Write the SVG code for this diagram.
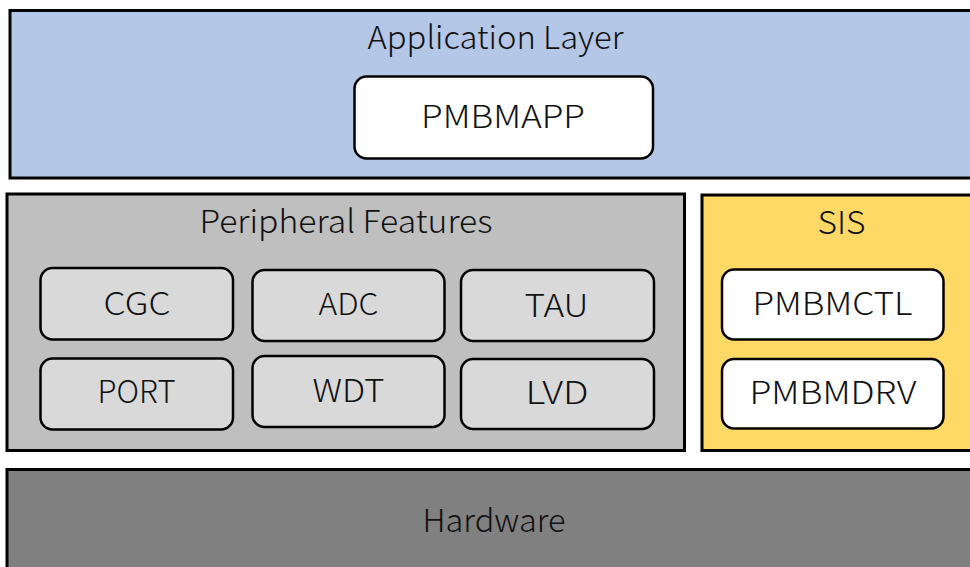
<svg xmlns="http://www.w3.org/2000/svg" width="970" height="567" viewBox="0 0 970 567">
<style>
.layer{stroke:#000;stroke-width:3}
.box{stroke:#000;stroke-width:2.5}
text{font-family:"Noto Sans CJK JP","Noto Sans",sans-serif;font-size:32px;font-weight:300;fill:#111;text-anchor:middle}
</style>
<rect width="970" height="567" fill="#fff"/>
<g id="app">
<rect class="layer" x="10" y="10.5" width="975" height="167.5" fill="#B4C7E7"/>
<text x="495.5" y="48.5" textLength="256" lengthAdjust="spacingAndGlyphs">Application Layer</text>
</g>
<g id="pmbmapp">
<rect class="box" x="354.5" y="76.5" width="298.5" height="82" rx="12" fill="#fff"/>
<text x="503" y="128" textLength="164" lengthAdjust="spacingAndGlyphs">PMBMAPP</text>
</g>
<g id="peripheral">
<rect class="layer" x="7" y="194" width="677.5" height="256.5" fill="#BFBFBF"/>
<text x="346" y="232.5" textLength="293" lengthAdjust="spacingAndGlyphs">Peripheral Features</text>
</g>
<g id="cgc"><rect class="box" x="40.5" y="268" width="192.5" height="71.5" rx="12" fill="#D9D9D9"/><text x="137" y="315" textLength="67" lengthAdjust="spacingAndGlyphs">CGC</text></g>
<g id="adc"><rect class="box" x="252.5" y="270" width="192" height="71" rx="12" fill="#D9D9D9"/><text x="348.5" y="315" style="font-size:30px" textLength="60" lengthAdjust="spacingAndGlyphs">ADC</text></g>
<g id="tau"><rect class="box" x="461" y="270" width="193" height="71" rx="12" fill="#D9D9D9"/><text x="556.5" y="316.5" textLength="64" lengthAdjust="spacingAndGlyphs">TAU</text></g>
<g id="port"><rect class="box" x="40.5" y="358.5" width="192.5" height="71" rx="12" fill="#D9D9D9"/><text x="136.5" y="402.5" textLength="78" lengthAdjust="spacingAndGlyphs">PORT</text></g>
<g id="wdt"><rect class="box" x="252.5" y="356" width="192" height="71" rx="12" fill="#D9D9D9"/><text x="348.5" y="401.5" textLength="72" lengthAdjust="spacingAndGlyphs">WDT</text></g>
<g id="lvd"><rect class="box" x="461" y="359" width="193" height="70" rx="12" fill="#D9D9D9"/><text x="557" y="404" textLength="63" lengthAdjust="spacingAndGlyphs">LVD</text></g>
<g id="sis">
<rect class="layer" x="702" y="195" width="280" height="255.5" fill="#FFD966"/>
<text x="841.5" y="234" textLength="48" lengthAdjust="spacingAndGlyphs">SIS</text>
</g>
<g id="pmbmctl"><rect class="box" x="722" y="269.5" width="221.5" height="70" rx="12" fill="#fff"/><text x="832.5" y="314.5" textLength="160" lengthAdjust="spacingAndGlyphs">PMBMCTL</text></g>
<g id="pmbmdrv"><rect class="box" x="722" y="359" width="221.5" height="69.5" rx="12" fill="#fff"/><text x="833" y="403.5" textLength="167" lengthAdjust="spacingAndGlyphs">PMBMDRV</text></g>
<g id="hardware">
<rect class="layer" x="7" y="469.5" width="980" height="110" fill="#808080"/>
<text x="494" y="531.5" textLength="143" lengthAdjust="spacingAndGlyphs">Hardware</text>
</g>
<g id="connectors"/>
</svg>
